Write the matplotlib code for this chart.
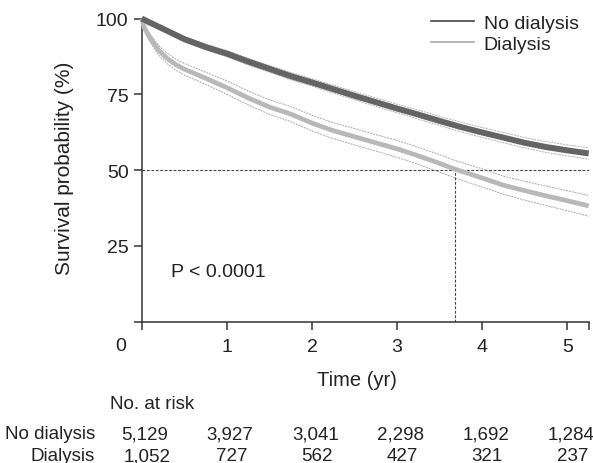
import matplotlib
matplotlib.use("Agg")
import matplotlib.pyplot as plt
import matplotlib.transforms as mtransforms

plt.rcParams['font.family'] = ['Liberation Sans', 'DejaVu Sans']

# no dialysis KM curve
t_nodial = [0, 0.05, 0.1, 0.25, 0.5, 0.75, 1, 1.25, 1.5, 1.75, 2, 2.25, 2.5, 2.75,
            3, 3.25, 3.5, 3.75, 4, 4.25, 4.5, 4.75, 5, 5.25]
s_nodial = [100, 99.3, 98.6, 96.6, 93.2, 90.6, 88.4, 85.8, 83.4, 81.0, 78.9, 76.7, 74.5, 72.4,
            70.3, 68.3, 66.2, 64.2, 62.4, 60.7, 59.0, 57.6, 56.5, 55.5]
lo_nodial = [100, 99.0, 98.2, 96.0, 92.4, 89.7, 87.4, 84.7, 82.3, 79.8, 77.7, 75.4, 73.2, 71.0,
             68.9, 66.8, 64.7, 62.6, 60.8, 59.0, 57.3, 55.8, 54.7, 53.6]
hi_nodial = [100, 99.6, 99.0, 97.2, 94.0, 91.5, 89.4, 86.9, 84.5, 82.2, 80.1, 78.0, 75.8, 73.8,
             71.7, 69.8, 67.7, 65.8, 64.0, 62.4, 60.7, 59.4, 58.3, 57.4]

# dialysis KM curve
t_dial = [0, 0.03, 0.1, 0.2, 0.3, 0.4, 0.5, 0.75, 1, 1.25, 1.5, 1.75, 2, 2.25, 2.5, 2.75,
          3, 3.25, 3.5, 3.68, 4, 4.25, 4.5, 4.75, 5, 5.25]
s_dial = [100, 97, 93.5, 89.5, 86.8, 84.8, 83.3, 80.3, 77.2, 73.8, 70.8, 68.5, 65.5, 63.0, 61.0, 59.0,
          57.0, 54.7, 52.2, 50.3, 47.4, 45.0, 43.2, 41.5, 39.9, 38.2]
lo_dial = [100, 96.2, 92.2, 87.9, 85.1, 83.0, 81.4, 78.3, 75.0, 71.5, 68.4, 66.0, 62.9, 60.4, 58.3, 56.3,
           54.2, 51.9, 49.3, 47.4, 44.4, 42.0, 40.1, 38.3, 36.6, 34.8]
hi_dial = [100, 97.8, 94.8, 91.1, 88.5, 86.6, 85.2, 82.3, 79.4, 76.1, 73.2, 71.0, 68.1, 65.6, 63.7, 61.7,
           59.8, 57.5, 55.1, 53.2, 50.4, 48.0, 46.3, 44.7, 43.2, 41.6]

median_dial = 3.68

risk_times = [0, 1, 2, 3, 4, 5]
risk_nodial = ['5,129', '3,927', '3,041', '2,298', '1,692', '1,284']
risk_dial = ['1,052', '727', '562', '427', '321', '237']

W, H = 593, 464
fig = plt.figure(figsize=(W / 100, H / 100), dpi=100)
ax = fig.add_axes([141.7 / W, 1 - 322.7 / H, (588.7 - 141.7) / W, (322.7 - 19.5) / H])

dark = '#646464'
light = '#b8b8b8'
txt = '#222222'

# median lines
ax.plot([0, 5.25], [50, 50], color='#444444', lw=0.8, ls=(0, (2.5, 1.5)), zorder=1)
ax.plot([median_dial, median_dial], [0, 50], color='#444444', lw=0.8, ls=(0, (2.5, 1.5)), zorder=1)

# confidence bands
ax.plot(t_dial, lo_dial, color='#a8a8a8', lw=0.7, ls=(0, (2, 1)), zorder=2)
ax.plot(t_dial, hi_dial, color='#a8a8a8', lw=0.7, ls=(0, (2, 1)), zorder=2)
ax.plot(t_nodial, lo_nodial, color='#b0b0b0', lw=0.7, ls=(0, (2, 1)), zorder=2)
ax.plot(t_nodial, hi_nodial, color='#b0b0b0', lw=0.7, ls=(0, (2, 1)), zorder=2)

# survival curves
ax.plot(t_dial, s_dial, color=light, lw=3.4, zorder=3, clip_on=False, solid_capstyle='butt')
ax.plot(t_nodial, s_nodial, color=dark, lw=4.3, zorder=4, clip_on=False, solid_capstyle='butt')

# legend handles
ax.plot([], [], color='#444444', lw=1.2, label='No dialysis')
ax.plot([], [], color='#aaaaaa', lw=1.2, label='Dialysis')
h, l = ax.get_legend_handles_labels()
leg = ax.legend(h[-2:], l[-2:], loc='upper left', bbox_to_anchor=(431 / W, 1 - 15 / H),
                bbox_transform=fig.transFigure, frameon=False, fontsize=14,
                handlelength=2.2, handletextpad=0.5, labelspacing=0.17,
                borderpad=0, borderaxespad=0)
for t in leg.get_texts():
    t.set_color(txt)

ax.set_xlim(0, 5.25)
ax.set_ylim(0, 100)
ax.spines['top'].set_visible(False)
ax.spines['right'].set_visible(False)
for s in ['left', 'bottom']:
    ax.spines[s].set_linewidth(1.1)
    ax.spines[s].set_color('#333333')

ax.set_xticks([0, 1, 2, 3, 4, 5, 5.25])
ax.set_xticklabels(['', '1', '2', '3', '4', '5', ''])
ax.set_yticks([0, 25, 50, 75, 100])
ax.set_yticklabels(['', '25', '50', '75', '100'])
ax.tick_params(axis='both', direction='out', length=5.5, width=1.1, color='#333333',
               labelsize=14, labelcolor=txt)
ax.tick_params(axis='x', pad=6)
ax.tick_params(axis='y', pad=4)

fig.text(121 / W, 1 - 347 / H, '0', fontsize=14, color=txt, ha='center', va='center')
fig.text(65 / W, 1 - 168 / H, 'Survival probability (%)', rotation=90, fontsize=15,
         color=txt, ha='center', va='center')
fig.text(357 / W, 1 - 381 / H, 'Time (yr)', fontsize=14.5, color=txt, ha='center', va='center')

ax.text(0.34, 16.7, 'P < 0.0001', fontsize=14, color=txt, ha='left', va='center')

# number at risk table
fig.text(110 / W, 1 - 405 / H, 'No. at risk', fontsize=13.5, color=txt, ha='left', va='center')
fig.text(95 / W, 1 - 435 / H, 'No dialysis', fontsize=13.5, color=txt, ha='right', va='center')
fig.text(95 / W, 1 - 457 / H, 'Dialysis', fontsize=13.5, color=txt, ha='right', va='center')
tr = mtransforms.blended_transform_factory(ax.transData, fig.transFigure)
for t, a, b in zip(risk_times, risk_nodial, risk_dial):
    ax.text(t + 0.04, 1 - 435 / H, a, transform=tr, fontsize=13.5, color=txt,
            ha='center', va='center', clip_on=False)
    ax.text(t + 0.06, 1 - 457 / H, b, transform=tr, fontsize=13.5, color=txt,
            ha='center', va='center', clip_on=False)

fig.savefig('out.png', dpi=100)
